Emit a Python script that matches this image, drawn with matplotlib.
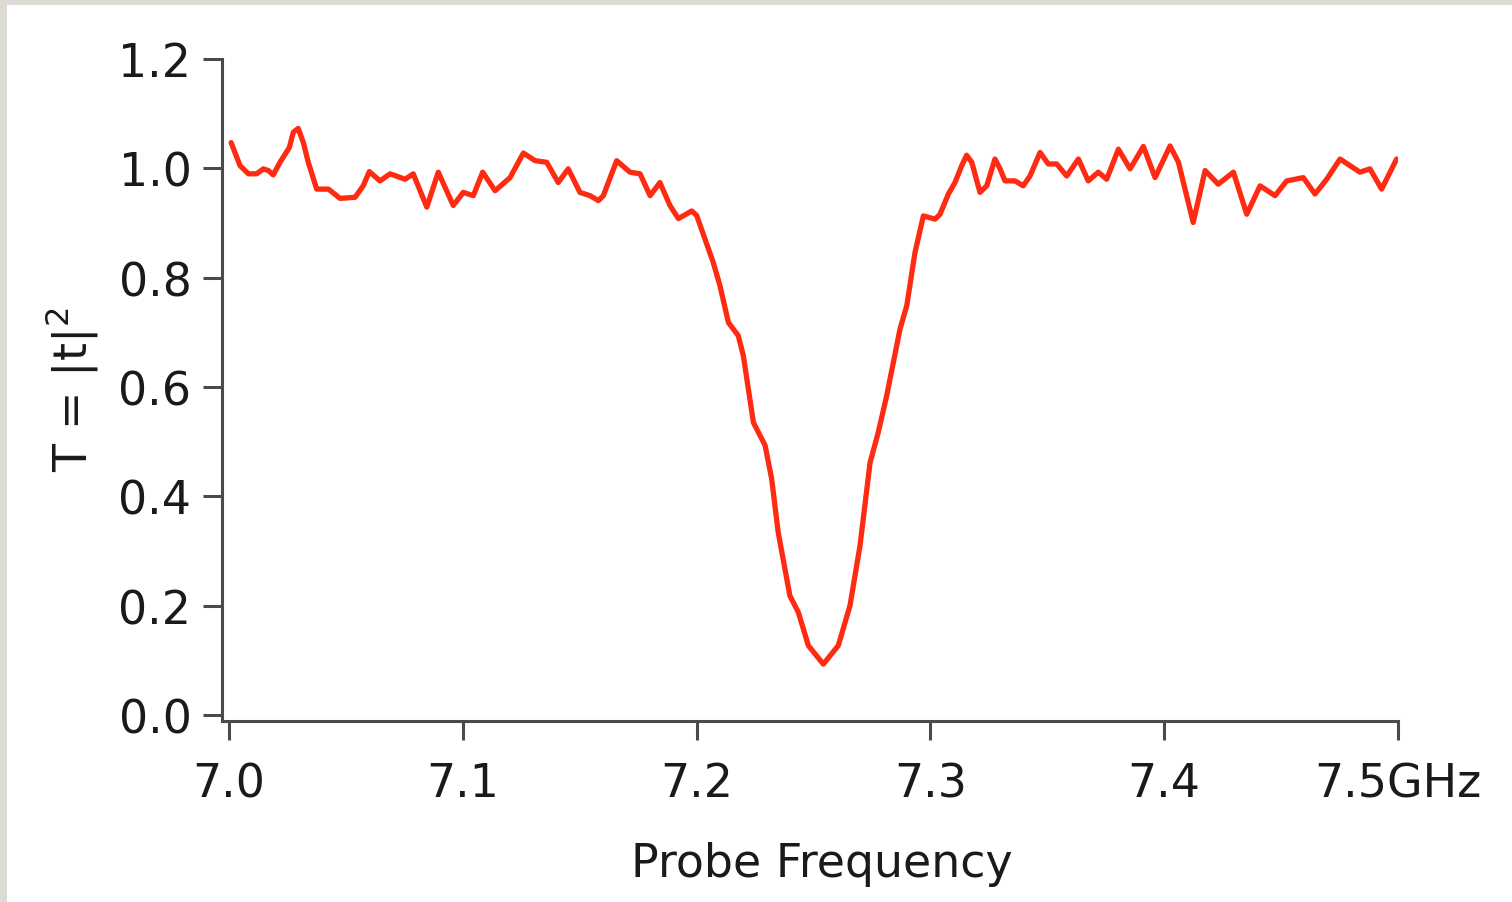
import numpy as np
import matplotlib
matplotlib.use("Agg")
from matplotlib import pyplot as plt
from matplotlib.patches import Rectangle

# probe frequency (GHz) and transmission
freq_ghz = [
    7.0009, 7.0047, 7.0083, 7.0118, 7.0147, 7.0168, 7.0189, 7.0218, 7.0258, 7.0275,
    7.0296, 7.0318, 7.0339, 7.0375, 7.0425, 7.0475, 7.0539, 7.0574, 7.0600, 7.0646,
    7.0689, 7.0753, 7.0788, 7.0846, 7.0895, 7.0959, 7.1002, 7.1045, 7.1085, 7.1138,
    7.1202, 7.1259, 7.1309, 7.1359, 7.1408, 7.1451, 7.1501, 7.1544, 7.1580, 7.1601,
    7.1658, 7.1715, 7.1758, 7.1801, 7.1843, 7.1886, 7.1922, 7.1979, 7.2000, 7.2071,
    7.2100, 7.2136, 7.2178, 7.2200, 7.2243, 7.2293, 7.2321, 7.2349, 7.2399, 7.2435,
    7.2478, 7.2542, 7.2606, 7.2656, 7.2699, 7.2742, 7.2777, 7.2813, 7.2870, 7.2899,
    7.2934, 7.2970, 7.3020, 7.3041, 7.3077, 7.3105, 7.3134, 7.3155, 7.3177, 7.3212,
    7.3241, 7.3276, 7.3298, 7.3319, 7.3362, 7.3397, 7.3426, 7.3469, 7.3504, 7.3540,
    7.3583, 7.3633, 7.3675, 7.3718, 7.3754, 7.3804, 7.3854, 7.3911, 7.3961, 7.4025,
    7.4061, 7.4124, 7.4175, 7.4231, 7.4296, 7.4353, 7.4410, 7.4474, 7.4524, 7.4595,
    7.4645, 7.4695, 7.4752, 7.4837, 7.4880, 7.4930, 7.4994,
]
transmission = [
    1.047, 1.005, 0.990, 0.990, 0.999, 0.996, 0.988, 1.011, 1.038, 1.066,
    1.073, 1.047, 1.011, 0.962, 0.962, 0.945, 0.947, 0.968, 0.994, 0.977,
    0.990, 0.980, 0.990, 0.929, 0.993, 0.932, 0.956, 0.950, 0.993, 0.959,
    0.983, 1.028, 1.014, 1.011, 0.974, 0.999, 0.956, 0.950, 0.941, 0.950,
    1.014, 0.993, 0.990, 0.950, 0.974, 0.932, 0.908, 0.922, 0.914, 0.828,
    0.785, 0.718, 0.694, 0.657, 0.535, 0.493, 0.432, 0.334, 0.218, 0.188,
    0.127, 0.093, 0.127, 0.200, 0.310, 0.462, 0.517, 0.584, 0.706, 0.749,
    0.846, 0.913, 0.907, 0.916, 0.953, 0.974, 1.005, 1.024, 1.011, 0.956,
    0.968, 1.017, 0.999, 0.977, 0.977, 0.968, 0.986, 1.029, 1.008, 1.008,
    0.986, 1.017, 0.977, 0.993, 0.980, 1.035, 0.999, 1.040, 0.983, 1.041,
    1.011, 0.901, 0.996, 0.971, 0.993, 0.916, 0.968, 0.950, 0.977, 0.983,
    0.953, 0.980, 1.017, 0.993, 0.999, 0.962, 1.017,
]

x_ticks = [7.0, 7.1, 7.2, 7.3, 7.4, 7.5]
x_labels = ["7.0", "7.1", "7.2", "7.3", "7.4", "7.5GHz"]
y_ticks = [0.0, 0.2, 0.4, 0.6, 0.8, 1.0, 1.2]
y_labels = ["0.0", "0.2", "0.4", "0.6", "0.8", "1.0", "1.2"]

plt.rcParams["font.family"] = ["DejaVu Sans"]
plt.rcParams["mathtext.default"] = "regular"

W, H = 1512, 903
fig = plt.figure(figsize=(W / 100, H / 100), dpi=100)
fig.patch.set_facecolor("#dedbd4")
# white sheet, grey edge only on top and left
fig.patches.append(Rectangle((7 / W, 0), 1, 1 - 6 / H, transform=fig.transFigure,
                             facecolor="white", edgecolor="none", zorder=-5))

ax = fig.add_axes([222 / W, 1 - 722 / H, (1398 - 222) / W, (722 - 60) / H])
ax.set_zorder(2)
ax.set_facecolor("none")
ax.plot(freq_ghz, transmission, color="#ff2a12", lw=3.8,
        solid_joinstyle="round", solid_capstyle="round")

ax.set_xlim(6.997, 7.5)
ax.set_ylim(-0.011, 1.2)
for s in ["top", "right"]:
    ax.spines[s].set_visible(False)
for s in ["left", "bottom"]:
    ax.spines[s].set_color("#4a4a4a")
    ax.spines[s].set_linewidth(2.2)

ax.set_xticks(x_ticks)
ax.set_xticklabels(x_labels)
ax.set_yticks(y_ticks)
ax.set_yticklabels(y_labels)
ax.tick_params(axis="both", direction="out", length=14, width=2.2, color="#4a4a4a",
               labelsize=33, labelcolor="#1a1a1a")
ax.tick_params(axis="x", pad=15)
ax.tick_params(axis="y", pad=8)

fig.text(822 / W, 1 - 865 / H, "Probe Frequency", ha="center", va="center",
         fontsize=33, color="#1a1a1a")
fig.text(72 / W, 1 - 390 / H, "T = |t|$^{2}$", ha="center", va="center",
         rotation=90, fontsize=33, color="#1a1a1a")

fig.savefig("out.png", dpi=100, facecolor=fig.get_facecolor())
